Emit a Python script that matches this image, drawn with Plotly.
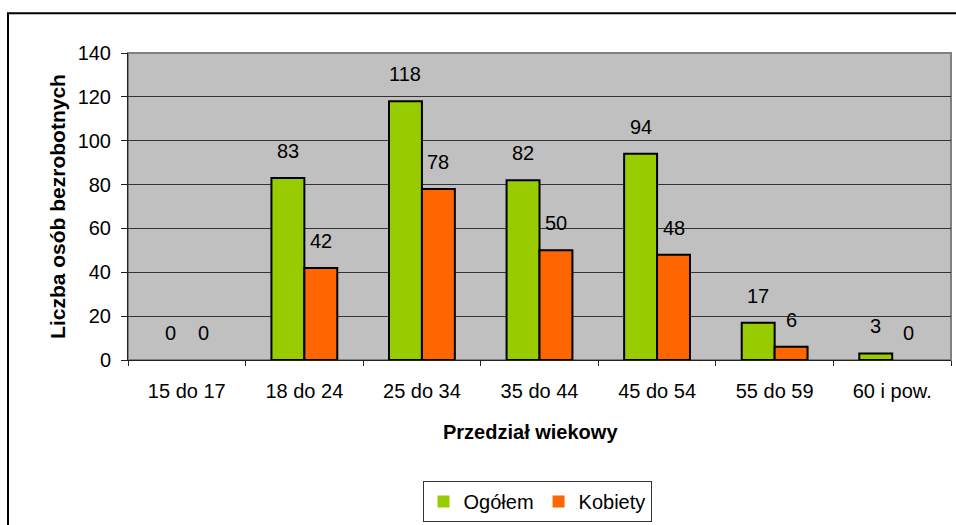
import plotly.graph_objects as go

categories = ["15 do 17", "18 do 24", "25 do 34", "35 do 44", "45 do 54", "55 do 59", "60 i pow."]
ogolem = [0, 83, 118, 82, 94, 17, 3]
kobiety = [0, 42, 78, 50, 48, 6, 0]
series_names = ["Ogółem", "Kobiety"]
colors = ["#99CC00", "#FF6600"]

W, H = 956, 525
ML, MR, MT, MB = 128, 5, 53, 164
PW = W - ML - MR
PH = H - MT - MB
BARGAP = 0.44
FONT = "Liberation Sans, Arial, sans-serif"
FS = 20

fig = go.Figure()
for name, vals, col in zip(series_names, [ogolem, kobiety], colors):
    fig.add_trace(go.Bar(
        x=categories, y=vals, name=name,
        marker=dict(color=col, line=dict(color="black", width=[2 if v > 0 else 0 for v in vals])),
    ))

# data labels above bars (Excel-style offset)
bar_px = PW / len(categories) * (1 - BARGAP) / 2
for i, vals in enumerate([ogolem, kobiety]):
    for c, v in zip(categories, vals):
        fig.add_annotation(
            x=c, y=v, xref="x", yref="y", text=str(v), showarrow=False,
            xshift=(i - 0.5) * bar_px, yshift=27, yanchor="middle",
            font=dict(family=FONT, size=FS, color="black"),
        )

# x-axis title (placed like the original, slightly left of centre)
fig.add_annotation(
    x=(530 - ML) / PW, y=-(433 - MT - PH) / PH, xref="paper", yref="paper",
    text="<b>Przedział wiekowy</b>", showarrow=False, xanchor="center", yanchor="middle",
    font=dict(family=FONT, size=FS, color="black"),
)

# outer chart frame (extends beyond the window right/bottom)
fig.add_shape(type="rect", xref="paper", yref="paper",
              x0=(8 - ML) / PW, x1=(W + 20 - ML) / PW,
              y0=-(MB + 30) / PH, y1=(PH + MT - 13) / PH,
              line=dict(color="black", width=2), layer="above")
# plot area border
fig.add_shape(type="rect", xref="paper", yref="paper", x0=0, x1=1, y0=0, y1=1,
              line=dict(color="#808080", width=2), layer="below")

fig.update_layout(
    width=W, height=H,
    margin=dict(l=ML, r=MR, t=MT, b=MB),
    paper_bgcolor="white", plot_bgcolor="#C0C0C0",
    barmode="group", bargap=BARGAP, bargroupgap=0,
    font=dict(family=FONT, size=FS, color="black"),
    showlegend=True,
    legend=dict(orientation="h", x=0.497, xanchor="center", y=-(481 - MT - PH) / PH, yanchor="top",
                bgcolor="white", bordercolor="#333333", borderwidth=1,
                font=dict(family=FONT, size=FS, color="black"),
                itemwidth=30, tracegroupgap=0),
    xaxis=dict(
        showline=True, linecolor="#222222", linewidth=1,
        ticks="outside", tickson="boundaries", ticklen=5, tickcolor="#222222",
        tickfont=dict(family=FONT, size=FS, color="black"),
        ticklabelstandoff=13,
        showgrid=False,
    ),
    yaxis=dict(
        range=[0, 140], dtick=20,
        showline=True, linecolor="#222222", linewidth=1,
        ticks="outside", ticklen=6, tickcolor="#222222",
        tickfont=dict(family=FONT, size=FS, color="black"),
        showgrid=True, gridcolor="#333333", gridwidth=1, zeroline=False,
        ticklabelstandoff=6,
        title=dict(text="<b>Liczba osób bezrobotnych</b>", font=dict(family=FONT, size=21, color="black"), standoff=6),
    ),
)

fig.write_html("out.html", config={"displayModeBar": False},
               post_script="document.body.style.margin='0';document.body.style.overflow='hidden';")
